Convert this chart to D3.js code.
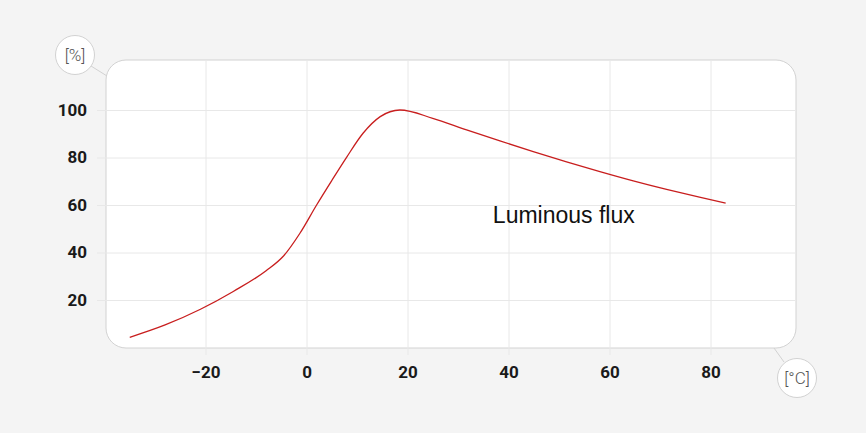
<!DOCTYPE html>
<html>
<head>
<meta charset="utf-8">
<script src="https://cdn.jsdelivr.net/npm/d3@7"></script>
<style>
  html, body { margin: 0; padding: 0; background: #f4f4f4; }
  svg { display: block; }
  .tick text { font-family: Roboto, "Liberation Sans", sans-serif; font-weight: 700; font-size: 17px; fill: #1a1a1a; }
  .tick line { stroke: #e8e8e8; stroke-width: 1; }
</style>
</head>
<body>
<svg id="chart" width="866" height="433"></svg>
<script>
// Data
const temps = [-35, -28, -21, -14.5, -8, -4.6, -1.3, 2, 5, 8, 11.2, 14.6, 18.5, 25, 31.7, 38.3, 44.9, 51.5, 58.1, 64.7, 71.3, 77.8, 83];
const flux  = [4.3, 9.5, 16.1, 23.6, 32.3, 38.4, 48.1, 60, 70.3, 80.3, 90.2, 97.2, 100, 96.5, 91.6, 87.0, 82.5, 78.2, 74.1, 70.2, 66.6, 63.3, 60.8];
const xTicks = [-20, 0, 20, 40, 60, 80];
const yTicks = [20, 40, 60, 80, 100];
const seriesName = "Luminous flux";
const xUnit = "[°C]";
const yUnit = "[%]";

const svg = d3.select("#chart");

// Panel box
const panel = { left: 106, right: 796, top: 60, bottom: 348 };

const x = d3.scaleLinear().domain([-20, 80]).range([205.5, 710.5]);
const y = d3.scaleLinear().domain([0, 100]).range([347.5, 110]);

svg.append("rect")
    .attr("x", panel.left)
    .attr("y", panel.top)
    .attr("width", panel.right - panel.left)
    .attr("height", panel.bottom - panel.top)
    .attr("rx", 20)
    .attr("fill", "#fff")
    .attr("stroke", "#d2d2d2");

// x grid + labels
const xAxisY = panel.bottom + 7;
svg.append("g")
    .attr("transform", `translate(0,${xAxisY})`)
    .call(d3.axisBottom(x)
        .tickValues(xTicks)
        .tickSize(-(xAxisY - panel.top - 1))
        .tickPadding(11)
        .tickFormat(d3.format("d")))
    .call(g => g.select(".domain").remove());

// y grid + labels
const yAxisX = 97;
svg.append("g")
    .attr("transform", `translate(${yAxisX},0)`)
    .call(d3.axisLeft(y)
        .tickValues(yTicks)
        .tickSize(-(panel.right - yAxisX - 1))
        .tickPadding(10)
        .tickFormat(d3.format("d")))
    .call(g => g.select(".domain").remove());

// curve
const line = d3.line()
    .x((d, i) => x(temps[i]))
    .y(d => y(d))
    .curve(d3.curveMonotoneX);

svg.append("path")
    .datum(flux)
    .attr("d", line)
    .attr("fill", "none")
    .attr("stroke", "#c81e1e")
    .attr("stroke-width", 1.3);

svg.append("text")
    .attr("x", x(36.9))
    .attr("y", y(52.5))
    .attr("font-family", "'Liberation Sans', Arial, sans-serif")
    .attr("font-size", 23)
    .attr("fill", "#111")
    .text(seriesName);

// unit bubbles
function unitBubble(cx, cy, lx1, ly1, lx2, ly2, label) {
    svg.append("line")
        .attr("x1", lx1).attr("y1", ly1)
        .attr("x2", lx2).attr("y2", ly2)
        .attr("stroke", "#d2d2d2");
    svg.append("circle")
        .attr("cx", cx).attr("cy", cy).attr("r", 19.5)
        .attr("fill", "#fff")
        .attr("stroke", "#d2d2d2");
    svg.append("text")
        .attr("x", cx).attr("y", cy)
        .attr("dy", "0.35em")
        .attr("text-anchor", "middle")
        .attr("font-family", "Roboto, sans-serif")
        .attr("font-weight", 300)
        .attr("font-size", 17)
        .attr("fill", "#555")
        .text(label);
}
unitBubble(75, 55, 91, 66, 107, 76, yUnit);
unitBubble(797, 378, 774, 348, 784, 362, xUnit);
</script>
</body>
</html>
